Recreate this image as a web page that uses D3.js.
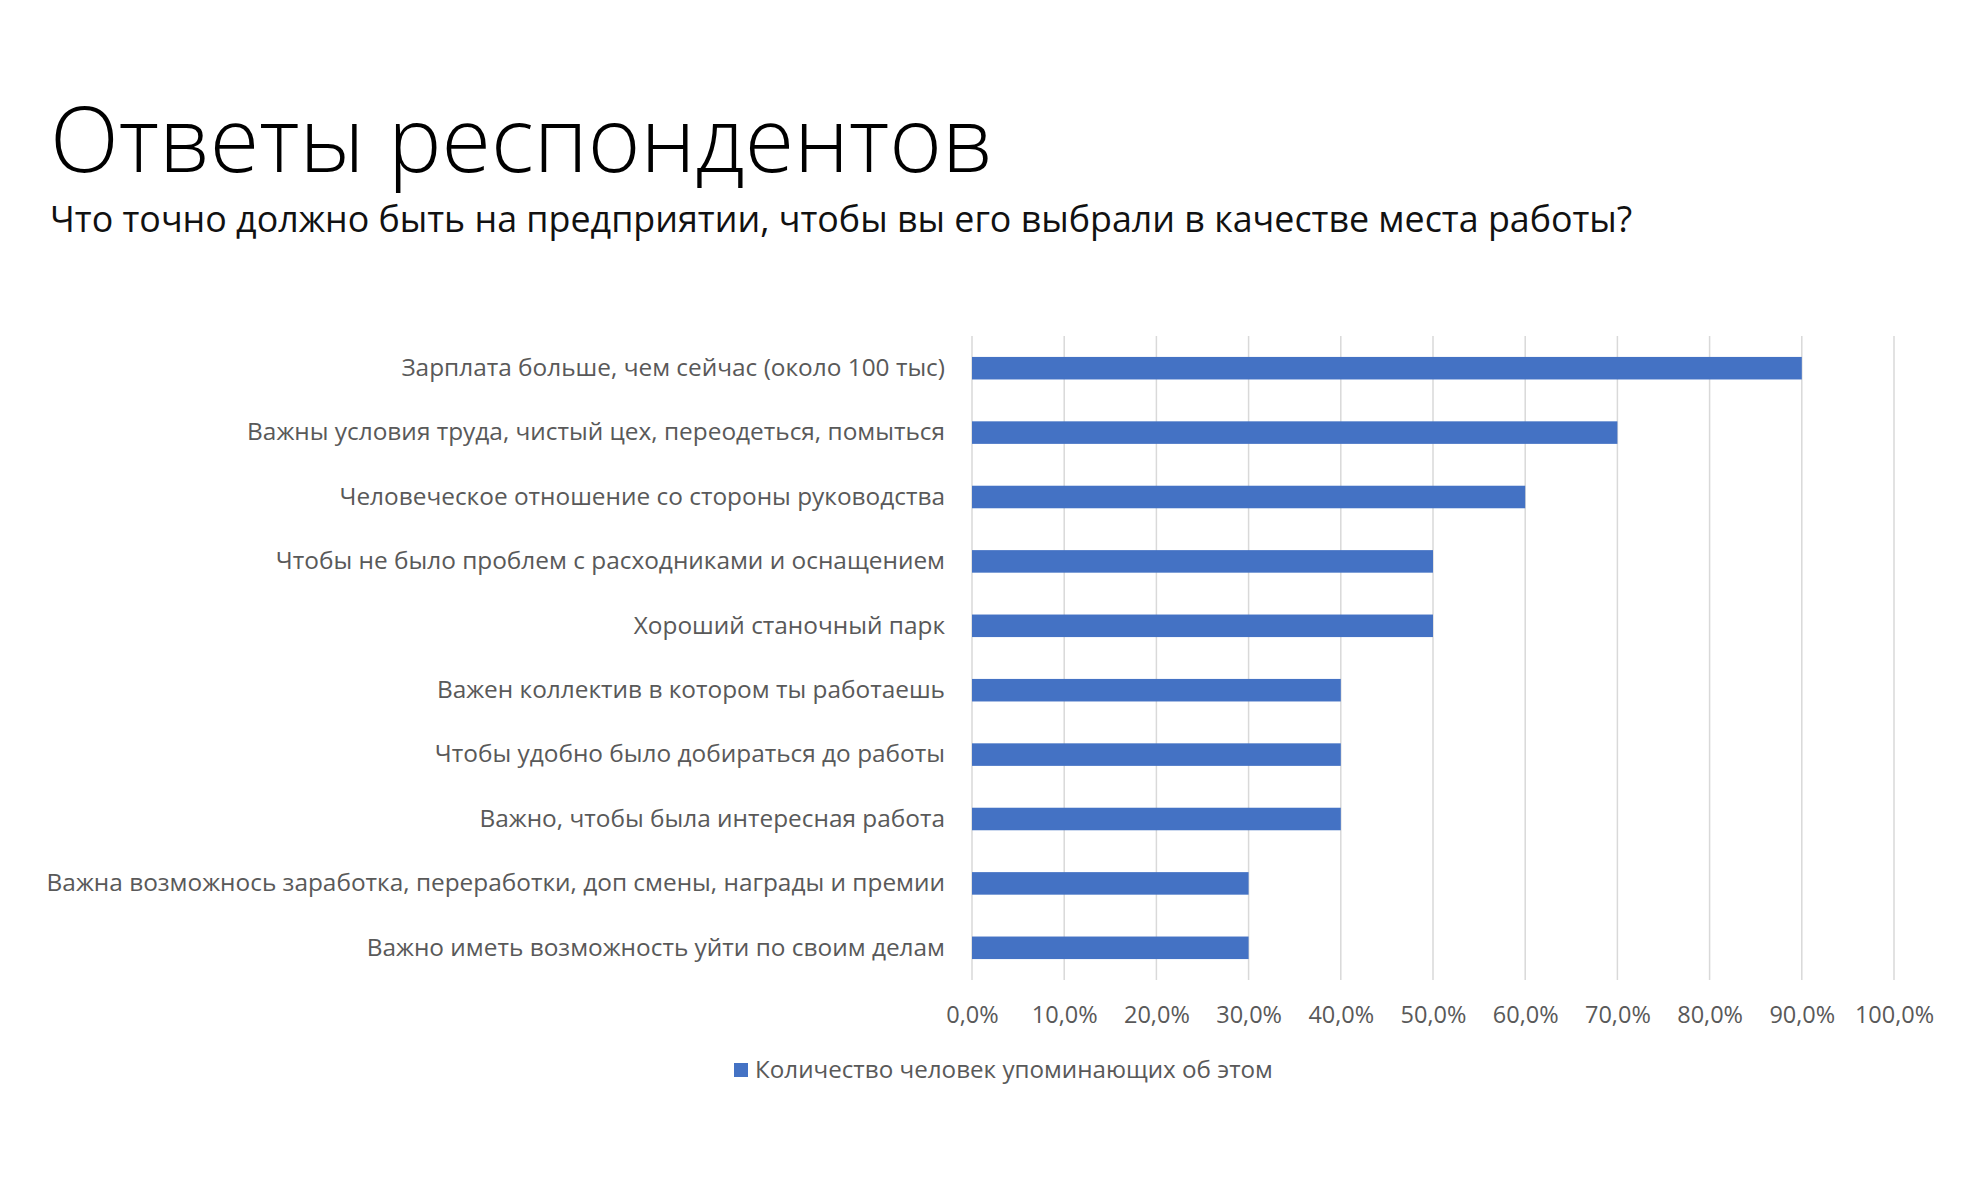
<!DOCTYPE html>
<html>
<head>
<meta charset="utf-8">
<script src="https://cdn.jsdelivr.net/npm/d3@7"></script>
<style>
  body { margin: 0; background: #fff; }
  svg { display: block; }
</style>
</head>
<body>
<div id="chart"></div>
<script>
// Chart data
const categories = [
  'Зарплата больше, чем сейчас (около 100 тыс)',
  'Важны условия труда, чистый цех, переодеться, помыться',
  'Человеческое отношение со стороны руководства',
  'Чтобы не было проблем с расходниками и оснащением',
  'Хороший станочный парк',
  'Важен коллектив в котором ты работаешь',
  'Чтобы удобно было добираться до работы',
  'Важно, чтобы была интересная работа',
  'Важна возможнось заработка, переработки, доп смены, награды и премии',
  'Важно иметь возможность уйти по своим делам',
];
const values = [0.9, 0.7, 0.6, 0.5, 0.5, 0.4, 0.4, 0.4, 0.3, 0.3];
const xTicks = [0, 0.1, 0.2, 0.3, 0.4, 0.5, 0.6, 0.7, 0.8, 0.9, 1.0];
const seriesName = 'Количество человек упоминающих об этом';
const title = 'Ответы респондентов';
const subtitle = 'Что точно должно быть на предприятии, чтобы вы его выбрали в качестве места работы?';

const W = 1984, H = 1200;
const plot = { left: 972, right: 1894, top: 336, bottom: 980 };
const BAR = '#4472C4';
const TEXT = '#595959';
const FONT = '"Open Sans", "Noto Sans", sans-serif';

const svg = d3.select('#chart').append('svg').attr('width', W).attr('height', H);

// Title + subtitle
svg.append('text')
  .attr('x', 50).attr('y', 172)
  .attr('fill', '#000').style('font-family', FONT).style('font-weight', 300)
  .style('font-size', '90px')
  .text(title);
svg.append('text')
  .attr('x', 50).attr('y', 232)
  .attr('fill', '#111').style('font-family', FONT)
  .style('font-size', '35.8px')
  .text(subtitle);

const x = d3.scaleLinear().domain([0, 1]).range([plot.left, plot.right]);
const y = d3.scaleBand().domain(categories).range([plot.top, plot.bottom])
  .paddingInner(0.65).paddingOuter(0.325);

// Vertical gridlines
svg.append('g')
  .selectAll('line')
  .data(xTicks)
  .join('line')
  .attr('x1', d => x(d)).attr('x2', d => x(d))
  .attr('y1', plot.top).attr('y2', plot.bottom)
  .attr('stroke', '#d9d9d9').attr('stroke-width', 1.5);

// Bars
svg.append('g')
  .selectAll('rect')
  .data(categories)
  .join('rect')
  .attr('x', x(0))
  .attr('y', d => y(d))
  .attr('width', (d, i) => x(values[i]) - x(0))
  .attr('height', y.bandwidth())
  .attr('fill', BAR);

// Category labels
const yAxis = svg.append('g')
  .attr('transform', `translate(${plot.left},0)`)
  .call(d3.axisLeft(y).tickSize(0).tickPadding(27))
  .call(ax => ax.select('.domain').remove());
yAxis.selectAll('text')
  .attr('fill', TEXT).style('font-family', FONT).style('font-size', '24.4px');

// X axis labels
const fmt = d => d3.format('.1f')(d * 100).replace('.', ',') + '%';
const xAxis = svg.append('g')
  .attr('transform', `translate(0,${plot.bottom})`)
  .call(d3.axisBottom(x).tickValues(xTicks).tickFormat(fmt).tickSize(0).tickPadding(26))
  .call(ax => ax.select('.domain').remove());
xAxis.selectAll('text')
  .attr('fill', TEXT).style('font-family', FONT).style('font-size', '23.5px');

// Legend
const lg = svg.append('g').attr('transform', 'translate(734,1070)');
lg.append('rect').attr('x', 0).attr('y', -7).attr('width', 14).attr('height', 14).attr('fill', BAR);
lg.append('text').attr('x', 21).attr('y', 0).attr('dy', '0.35em')
  .attr('fill', TEXT).style('font-family', FONT).style('font-size', '24.2px')
  .text(seriesName);
</script>
</body>
</html>
